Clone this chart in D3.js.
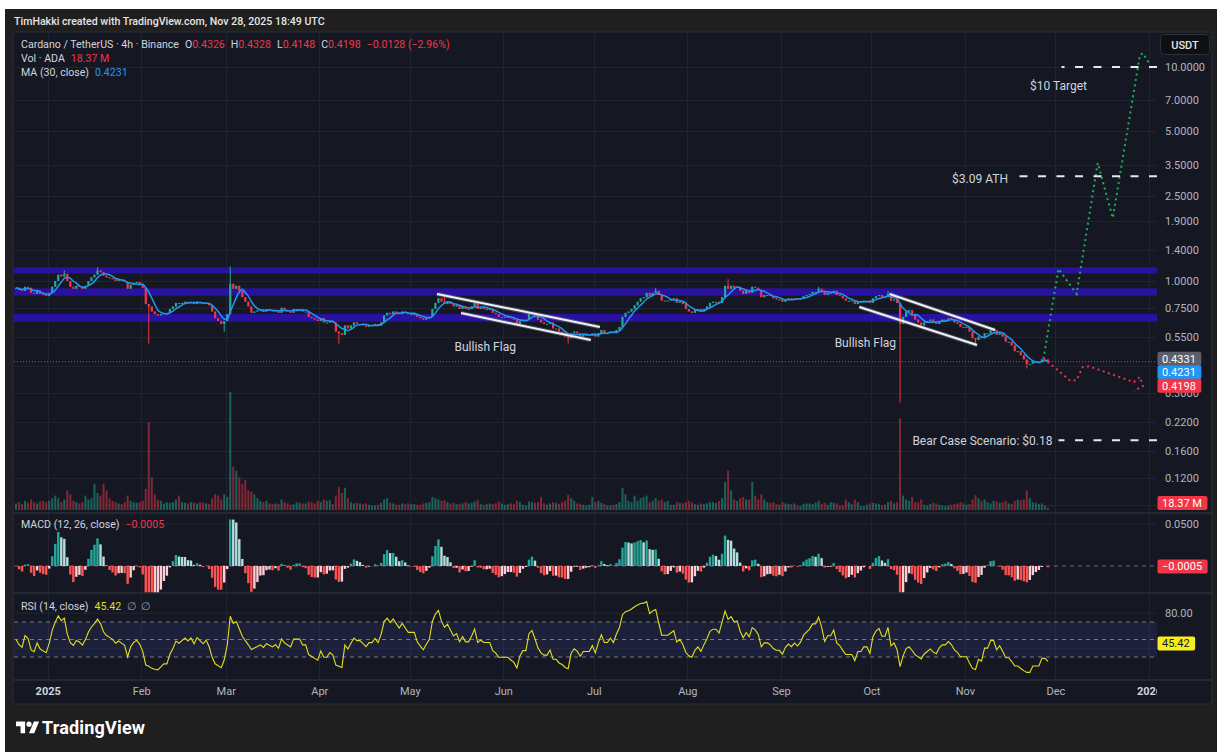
<!DOCTYPE html>
<html>
<head>
<meta charset="utf-8">
<title>Cardano / TetherUS 4h</title>
<script src="https://cdn.jsdelivr.net/npm/d3@7/dist/d3.min.js"></script>
<style>
  body { margin: 0; background: #ffffff; }
  #chart { display: block; font-family: Roboto, "Noto Sans", sans-serif; }
</style>
</head>
<body>
<svg id="chart" width="1223" height="756"></svg>
<script>
/** DATA (one daily close per candle) */
const startDay = new Date(2024, 11, 21)
const firstOpen = 0.92
const closes = [
  // Dec 21 - 31
  0.93, 0.91, 0.90, 0.94, 0.93, 0.88, 0.87, 0.90, 0.87, 0.86, 0.85,
  // Jan
  0.88, 0.94, 1.00, 1.07, 1.05, 1.08, 1.00, 0.94, 0.92, 0.95, 0.94, 0.92, 0.95, 1.00, 1.04, 1.07,
  1.12, 1.10, 1.06, 1.04, 1.03, 1.02, 1.00, 1.01, 1.00, 0.99, 0.92, 0.96, 0.98, 0.99, 0.97,
  // Feb
  0.93, 0.78, 0.76, 0.72, 0.70, 0.69, 0.70, 0.71, 0.71, 0.74, 0.76, 0.79, 0.78, 0.79, 0.80, 0.79,
  0.80, 0.78, 0.80, 0.79, 0.78, 0.79, 0.77, 0.72, 0.67, 0.65, 0.63, 0.65,
  // Mar
  0.70, 0.97, 0.92, 0.95, 0.90, 0.84, 0.80, 0.76, 0.71, 0.72, 0.73, 0.74, 0.72, 0.74, 0.73, 0.72,
  0.73, 0.71, 0.75, 0.73, 0.72, 0.71, 0.74, 0.74, 0.74, 0.72, 0.72, 0.68, 0.67, 0.66, 0.65,
  // Apr
  0.67, 0.64, 0.64, 0.65, 0.64, 0.58, 0.57, 0.56, 0.62, 0.60, 0.62, 0.64, 0.63, 0.63, 0.62, 0.61,
  0.62, 0.62, 0.63, 0.62, 0.64, 0.69, 0.71, 0.70, 0.72, 0.71, 0.70, 0.72, 0.71, 0.70,
  // May
  0.70, 0.70, 0.68, 0.67, 0.66, 0.67, 0.68, 0.74, 0.79, 0.83, 0.80, 0.78, 0.80, 0.78, 0.76, 0.77,
  0.74, 0.76, 0.74, 0.74, 0.76, 0.79, 0.74, 0.75, 0.74, 0.74, 0.74, 0.71, 0.70, 0.68, 0.68,
  // Jun
  0.68, 0.68, 0.67, 0.66, 0.63, 0.65, 0.66, 0.66, 0.70, 0.71, 0.69, 0.66, 0.64, 0.63, 0.63, 0.64,
  0.60, 0.60, 0.58, 0.57, 0.55, 0.54, 0.57, 0.58, 0.57, 0.55, 0.56, 0.56, 0.56, 0.57,
  // Jul
  0.55, 0.57, 0.59, 0.57, 0.57, 0.58, 0.57, 0.59, 0.61, 0.68, 0.71, 0.72, 0.74, 0.77, 0.80, 0.83,
  0.84, 0.88, 0.85, 0.88, 0.90, 0.86, 0.81, 0.81, 0.81, 0.82, 0.83, 0.79, 0.80, 0.78, 0.74,
  // Aug
  0.72, 0.71, 0.73, 0.74, 0.72, 0.74, 0.76, 0.79, 0.80, 0.80, 0.79, 0.84, 0.95, 0.92, 0.95, 0.93,
  0.94, 0.90, 0.87, 0.90, 0.88, 0.94, 0.93, 0.91, 0.84, 0.86, 0.86, 0.85, 0.83, 0.82, 0.82,
  // Sep
  0.80, 0.82, 0.83, 0.82, 0.83, 0.82, 0.83, 0.85, 0.86, 0.87, 0.89, 0.89, 0.92, 0.90, 0.86, 0.88,
  0.88, 0.90, 0.86, 0.85, 0.83, 0.81, 0.81, 0.81, 0.78, 0.80, 0.80, 0.81, 0.81, 0.79,
  // Oct
  0.83, 0.85, 0.86, 0.84, 0.84, 0.87, 0.81, 0.82, 0.79, 0.63, 0.68, 0.72, 0.73, 0.70, 0.66, 0.64,
  0.62, 0.64, 0.65, 0.66, 0.64, 0.63, 0.65, 0.66, 0.66, 0.67, 0.66, 0.64, 0.63, 0.61, 0.61,
  // Nov 1 - 28
  0.61, 0.58, 0.54, 0.53, 0.55, 0.54, 0.57, 0.57, 0.59, 0.59, 0.56, 0.57, 0.55, 0.52, 0.52, 0.50,
  0.47, 0.47, 0.45, 0.43, 0.41, 0.41, 0.42, 0.42, 0.42, 0.43, 0.43, 0.4198
]
// volume, millions of ADA (tallest 4h bar of each day)
const volumes = [
  50, 60, 45, 70, 55, 80, 60, 50, 65, 70, 60,
  70, 90, 110, 90, 60, 80, 150, 120, 70, 60, 50, 60, 110, 80, 90, 200, 130, 110, 200, 150, 90, 70, 60, 50, 45, 60, 110, 70, 60, 55, 60,
  70, 160, 670, 250, 120, 80, 70, 50, 60, 55, 60, 80, 110, 60, 55, 50, 60, 55, 50, 60, 55, 50, 45, 90, 120, 110, 80, 120,
  100, 900, 330, 300, 250, 200, 230, 150, 140, 120, 90, 70, 60, 70, 50, 45, 50, 45, 80, 60, 50, 40, 45, 60, 55, 50, 50, 65, 60, 50, 70,
  60, 80, 70, 75, 45, 110, 175, 130, 170, 90, 60, 50, 55, 50, 45, 50, 40, 35, 35, 40, 55, 80, 90, 55, 50, 40, 40, 50, 45, 50,
  45, 45, 40, 40, 50, 55, 60, 100, 90, 80, 70, 75, 60, 50, 55, 45, 45, 50, 60, 50, 55, 65, 75, 45, 40, 45, 50, 45, 50, 65, 50,
  40, 45, 50, 45, 70, 60, 40, 35, 65, 60, 55, 60, 100, 50, 40, 50, 60, 55, 45, 60, 70, 115, 90, 70, 50, 45, 40, 35, 40, 100,
  60, 70, 55, 45, 35, 35, 40, 45, 60, 170, 120, 70, 60, 110, 70, 90, 100, 110, 60, 70, 90, 70, 80, 60, 70, 40, 40, 60, 55, 50, 60,
  70, 60, 45, 40, 50, 45, 50, 60, 60, 55, 70, 90, 215, 300, 150, 80, 70, 90, 100, 80, 80, 215, 110, 80, 120, 80, 60, 55, 60, 45, 40,
  60, 50, 45, 45, 50, 35, 30, 45, 50, 50, 45, 55, 70, 45, 55, 40, 60, 55, 50, 35, 35, 80, 60, 45, 80, 60, 30, 30, 40, 50,
  55, 50, 45, 35, 40, 60, 70, 50, 60, 700, 110, 80, 70, 100, 60, 60, 80, 40, 35, 45, 55, 50, 40, 35, 30, 35, 40, 45, 50, 60, 50,
  40, 45, 80, 115, 90, 70, 80, 60, 50, 70, 65, 55, 60, 70, 50, 45, 70, 80, 75, 80, 150, 90, 60, 55, 45, 50, 35, 18.37
]
// long wicks that stick out of the bodies
const highWicks = [['2025-01-06', 1.12], ['2025-01-17', 1.16], ['2025-03-02', 1.17], ['2025-05-12', 0.86],
  ['2025-07-21', 0.93], ['2025-08-14', 1.02], ['2025-09-13', 0.94], ['2025-10-06', 0.90]]
const lowWicks = [['2025-02-03', 0.51], ['2025-02-28', 0.58], ['2025-04-07', 0.51], ['2025-06-22', 0.51],
  ['2025-10-10', 0.27], ['2025-11-04', 0.50], ['2025-11-21', 0.39]]

const priceTicks = [10, 7, 5, 3.5, 2.5, 1.9, 1.4, 1.0, 0.75, 0.55, 0.3, 0.22, 0.16, 0.12]
const priceGridOnly = [0.4, 0.09]
const zones = [[1.086, 1.159], [0.854, 0.924], [0.645, 0.701]]
const flagLines = [
  [['2025-05-10', 0.870], ['2025-07-03', 0.610]],
  [['2025-05-18', 0.709], ['2025-06-30', 0.530]],
  [['2025-10-07', 0.870], ['2025-11-11', 0.590]],
  [['2025-09-27', 0.756], ['2025-11-05', 0.502]]
]
const bullPath = [['2025-11-27', 0.432], ['2025-12-02', 1.14], ['2025-12-08', 0.87], ['2025-12-15', 3.56],
  ['2025-12-20', 1.97], ['2025-12-29', 11.4], ['2025-12-30', 11.6], ['2026-01-01', 10.4]]
const bearPath = [['2025-11-27', 0.436], ['2025-12-06', 0.341], ['2025-12-08', 0.344], ['2025-12-10', 0.396],
  ['2025-12-12', 0.400], ['2025-12-27', 0.337], ['2025-12-29', 0.356], ['2025-12-30', 0.323], ['2025-12-27', 0.306]]
const levels = [[10, '2025-12-03'], [3.09, '2025-11-19'], [0.18, '2025-12-02']]
const notes = [
  ['$10 Target', '2025-12-02', 8.15, 'middle'],
  ['$3.09 ATH', '2025-11-06', 3.0, 'middle'],
  ['Bear Case Scenario: $0.18', '2025-11-30', 0.18, 'end'],
  ['Bullish Flag', '2025-05-26', 0.491, 'middle'],
  ['Bullish Flag', '2025-09-29', 0.513, 'middle']
]
const headerText = 'TimHakki created with TradingView.com, Nov 28, 2025 18:49 UTC'
const symbolText = 'Cardano / TetherUS · 4h · Binance'
const ohlc = [['O', '0.4326'], ['H', '0.4328'], ['L', '0.4148'], ['C', '0.4198']]
const changeText = '−0.0128 (−2.96%)'
const lastVol = '18.37 M', lastMa = '0.4231', lastMacd = '−0.0005', lastRsi = '45.42'
const lastBoxes = [[0.4331, '0.4331', '#5d606b'], [0.4231, '0.4231', '#2196f3'], [0.4198, '0.4198', '#f23645']]

/** LAYOUT */
const plotL = 14, plotR = 1157, panelR = 1212
const paneTop = 32, mainBottom = 513, macdBottom = 593, rsiBottom = 680, panelBottom = 704
const upColor = '#22ab94', downColor = '#f23645', axisText = '#b2b5be', legendText = '#d1d4dc'
const gridColor = '#202432', sepColor = '#2a2e39'
const legendSize = 10.6
const parseDay = d3.timeParse('%Y-%m-%d')
const fmtDay = d3.timeFormat('%Y-%m-%d')

const svg = d3.select('#chart')

const xScale = d3.scaleTime().domain([new Date(2025, 0, 1), new Date(2026, 0, 1)]).range([47.7, 1149])
const yPrice = d3.scaleLog().domain([1, 10]).range([281, 67])
const yVol = d3.scaleLinear().domain([0, 1000]).range([510, 379])
const yMacd = d3.scaleLinear().domain([0, 0.05]).range([566, 524])
const yRsi = d3.scaleLinear().domain([30, 70]).range([657, 622])

/** candles + indicators */
const highMap = new Map(highWicks), lowMap = new Map(lowWicks)
const candles = closes.map((c, i) => {
  const day = d3.timeDay.offset(startDay, i)
  const key = fmtDay(day)
  const o = i === 0 ? firstOpen : closes[i - 1]
  return {
    day: day, o: o, c: c, v: volumes[i],
    h: Math.max(o, c, highMap.get(key) || 0),
    l: Math.min(o, c, lowMap.get(key) || 99)
  }
})
const xMid = d => xScale(d3.timeHour.offset(d.day, 12))

// 30 bars of 4h = 5 days
candles.forEach((d, i) => { d.ma = d3.mean(closes.slice(Math.max(0, i - 4), i + 1)) })

// EMA lengths given in 4h bars, turned into daily smoothing with the same lag
function lagAlpha(bars) { return 1 / (1 + (bars - 1) / 2 / 6) }
function ema(vals, a) {
  let out = [], prev = vals[0]
  vals.forEach((v, i) => { prev = i === 0 ? v : prev + a * (v - prev); out.push(prev) })
  return out
}
const fastE = ema(closes, lagAlpha(12)), slowE = ema(closes, lagAlpha(26))
candles.forEach((d, i) => { d.macd = fastE[i] - slowE[i] })

const rsiA = 0.12
let avgG = 0.01, avgL = 0.01
candles.forEach((d, i) => {
  if (i > 0) {
    const ch = closes[i] - closes[i - 1]
    avgG += rsiA * (Math.max(ch, 0) - avgG)
    avgL += rsiA * (Math.max(-ch, 0) - avgL)
  }
  d.rsi = 100 - 100 / (1 + avgG / avgL)
})

/** frame */
svg.append('rect').attr('x', 5).attr('y', 9).attr('width', 1212).attr('height', 743).attr('fill', '#1f1f1f')
svg.append('text').attr('x', 14).attr('y', 25).attr('fill', '#e6e6e6')
  .attr('font-size', legendSize).attr('font-weight', 500).text(headerText)
svg.append('rect').attr('x', 13).attr('y', paneTop).attr('width', panelR - 13).attr('height', panelBottom - paneTop)
  .attr('fill', '#151823').attr('stroke', sepColor)

const defs = svg.append('defs')
function clip(id, y0, y1) {
  defs.append('clipPath').attr('id', id).append('rect')
    .attr('x', plotL).attr('y', y0).attr('width', plotR - plotL).attr('height', y1 - y0)
}
clip('clipMain', paneTop, mainBottom)
clip('clipMacd', mainBottom, macdBottom)
clip('clipRsi', macdBottom, rsiBottom)
clip('clipTime', rsiBottom, panelBottom)

/** grid */
const grid = svg.append('g').attr('stroke', gridColor).attr('stroke-width', 1)
const months = d3.timeMonth.range(new Date(2025, 0, 1), new Date(2026, 0, 2))
grid.selectAll('.vg').data(months).join('line')
  .attr('x1', d => Math.round(xScale(d)) + 0.5).attr('x2', d => Math.round(xScale(d)) + 0.5)
  .attr('y1', paneTop).attr('y2', rsiBottom)
grid.selectAll('.hg').data(priceTicks.concat(priceGridOnly)).join('line')
  .attr('x1', plotL).attr('x2', plotR)
  .attr('y1', d => Math.round(yPrice(d)) + 0.5).attr('y2', d => Math.round(yPrice(d)) + 0.5)
grid.append('line').attr('x1', plotL).attr('x2', plotR).attr('y1', yMacd(0.05)).attr('y2', yMacd(0.05))
grid.selectAll('.rg').data([80, 40]).join('line')
  .attr('x1', plotL).attr('x2', plotR).attr('y1', d => yRsi(d)).attr('y2', d => yRsi(d))

/** main pane */
const mainG = svg.append('g').attr('clip-path', 'url(#clipMain)')

mainG.selectAll('.zone').data(zones).join('rect')
  .attr('x', plotL).attr('width', plotR - plotL)
  .attr('y', d => yPrice(d[1])).attr('height', d => yPrice(d[0]) - yPrice(d[1]))
  .attr('fill', '#2a12a0')

mainG.selectAll('.vol').data(candles).join('rect')
  .attr('x', d => xMid(d) - 1).attr('width', 2)
  .attr('y', d => yVol(d.v)).attr('height', d => yVol(0) - yVol(d.v))
  .attr('fill', d => d.c >= d.o ? upColor : downColor).attr('opacity', 0.5)

mainG.append('line').attr('x1', plotL).attr('x2', plotR)
  .attr('y1', yPrice(closes[closes.length - 1])).attr('y2', yPrice(closes[closes.length - 1]))
  .attr('stroke', downColor).attr('stroke-dasharray', '1 2').attr('stroke-width', 1)

mainG.selectAll('.wick').data(candles).join('line')
  .attr('x1', d => xMid(d)).attr('x2', d => xMid(d))
  .attr('y1', d => yPrice(d.h)).attr('y2', d => yPrice(d.l))
  .attr('stroke', d => d.c >= d.o ? upColor : downColor).attr('stroke-width', 1)
mainG.selectAll('.body').data(candles).join('rect')
  .attr('x', d => xMid(d) - 1.1).attr('width', 2.2)
  .attr('y', d => yPrice(Math.max(d.o, d.c)))
  .attr('height', d => Math.max(1, yPrice(Math.min(d.o, d.c)) - yPrice(Math.max(d.o, d.c))))
  .attr('fill', d => d.c >= d.o ? upColor : downColor)

mainG.append('path').datum(candles)
  .attr('d', d3.line().x(d => xMid(d)).y(d => yPrice(d.ma)).curve(d3.curveMonotoneX))
  .attr('fill', 'none').attr('stroke', '#2196f3').attr('stroke-width', 1.5)

// flags
const ptLine = d3.line().x(d => xScale(parseDay(d[0]))).y(d => yPrice(d[1]))
mainG.selectAll('.flagU').data(flagLines).join('path').attr('d', ptLine)
  .attr('stroke', '#8a8d96').attr('stroke-width', 4).attr('opacity', 0.45).attr('fill', 'none')
mainG.selectAll('.flag').data(flagLines).join('path').attr('d', ptLine)
  .attr('stroke', '#eef0f5').attr('stroke-width', 2).attr('fill', 'none')

// projections
mainG.append('path').datum(bullPath).attr('d', ptLine).attr('fill', 'none')
  .attr('stroke', '#1fae5b').attr('stroke-width', 2).attr('stroke-dasharray', '2 3.5')
mainG.append('path').datum(bearPath).attr('d', ptLine).attr('fill', 'none')
  .attr('stroke', '#e5344c').attr('stroke-width', 2).attr('stroke-dasharray', '2 3.5')

// dashed levels, drawn from the price scale edge leftwards
mainG.selectAll('.lvl').data(levels).join('line')
  .attr('x1', plotR).attr('x2', d => xScale(parseDay(d[1])))
  .attr('y1', d => yPrice(d[0])).attr('y2', d => yPrice(d[0]))
  .attr('stroke', '#e8e8e8').attr('stroke-width', 2).attr('stroke-dasharray', '8 10.5')

mainG.selectAll('.note').data(notes).join('text')
  .attr('x', d => xScale(parseDay(d[1]))).attr('y', d => yPrice(d[2]))
  .attr('dy', '0.35em').attr('text-anchor', d => d[3])
  .attr('fill', legendText).attr('font-size', 12).text(d => d[0])

/** MACD pane */
const macdG = svg.append('g').attr('clip-path', 'url(#clipMacd)')
macdG.append('line').attr('x1', plotL).attr('x2', plotR).attr('y1', yMacd(0)).attr('y2', yMacd(0))
  .attr('stroke', '#6a6d78').attr('stroke-dasharray', '4 4')
function macdColor(d, i) {
  const prev = i > 0 ? candles[i - 1].macd : 0
  if (d.macd >= 0) return d.macd >= prev ? '#26a69a' : '#b2dfdb'
  return d.macd < prev ? '#ff5252' : '#ffcdd2'
}
macdG.selectAll('.mh').data(candles).join('rect')
  .attr('x', d => xMid(d) - 1.2).attr('width', 2.4)
  .attr('y', d => Math.min(yMacd(d.macd), yMacd(0)))
  .attr('height', d => Math.abs(yMacd(d.macd) - yMacd(0)))
  .attr('fill', macdColor)

/** RSI pane */
const rsiG = svg.append('g').attr('clip-path', 'url(#clipRsi)')
rsiG.append('rect').attr('x', plotL).attr('width', plotR - plotL)
  .attr('y', yRsi(70)).attr('height', yRsi(30) - yRsi(70)).attr('fill', 'rgba(80, 90, 220, 0.12)')
rsiG.selectAll('.rl').data([70, 50, 30]).join('line')
  .attr('x1', plotL).attr('x2', plotR).attr('y1', d => yRsi(d)).attr('y2', d => yRsi(d))
  .attr('stroke', '#787b86').attr('stroke-dasharray', '4 4')
rsiG.append('path').datum(candles)
  .attr('d', d3.line().x(d => xMid(d)).y(d => yRsi(d.rsi)))
  .attr('fill', 'none').attr('stroke', '#e4df1e').attr('stroke-width', 1.1)

/** separators */
svg.selectAll('.sep').data([mainBottom, macdBottom, rsiBottom]).join('line')
  .attr('x1', 13).attr('x2', panelR).attr('y1', d => d).attr('y2', d => d)
  .attr('stroke', sepColor).attr('stroke-width', 1.5)

/** axes */
function styleAxis(g) {
  g.attr('font-family', null).attr('font-size', 11)
  g.select('.domain').remove()
  g.selectAll('text').attr('fill', axisText)
}
svg.append('g').attr('transform', `translate(${plotR},0)`)
  .call(d3.axisRight(yPrice).tickValues(priceTicks).tickSize(0).tickPadding(8).tickFormat(d3.format('.4f')))
  .call(styleAxis)
svg.append('g').attr('transform', `translate(${plotR},0)`)
  .call(d3.axisRight(yMacd).tickValues([0.05]).tickSize(0).tickPadding(8).tickFormat(d3.format('.4f')))
  .call(styleAxis)
svg.append('g').attr('transform', `translate(${plotR},0)`)
  .call(d3.axisRight(yRsi).tickValues([80]).tickSize(0).tickPadding(8).tickFormat(d3.format('.2f')))
  .call(styleAxis)

const timeAxis = svg.append('g').attr('clip-path', 'url(#clipTime)').append('g')
  .attr('transform', `translate(0,${rsiBottom})`)
  .call(d3.axisBottom(xScale).tickValues(months).tickSize(0).tickPadding(7)
    .tickFormat(d => d.getMonth() === 0 ? d3.timeFormat('%Y')(d) : d3.timeFormat('%b')(d)))
  .call(styleAxis)
timeAxis.selectAll('text').filter(d => d.getMonth() === 0)
  .attr('font-weight', 700).attr('fill', '#d1d4dc')

/** value boxes on the price scale */
function valueBox(y, text, fill, color) {
  const g = svg.append('g')
  const t = g.append('text').attr('x', plotR + 5).attr('y', y).attr('dy', '0.35em')
    .attr('font-size', 11).attr('fill', color || '#ffffff').text(text)
  const w = t.node().getComputedTextLength() + 10
  g.insert('rect', 'text').attr('x', plotR + 0.5).attr('y', y - 7).attr('width', w).attr('height', 14)
    .attr('rx', 2).attr('fill', fill)
}
let lastY = -1e9
lastBoxes.forEach(b => {
  let y = Math.max(yPrice(b[0]), lastY + 13.5)
  valueBox(y, b[1], b[2])
  lastY = y
})
valueBox(Math.min(yVol(+lastVol.split(' ')[0]), yVol(0) - 7), lastVol, downColor)
valueBox(yMacd(-0.0005), lastMacd, downColor)
valueBox(yRsi(+lastRsi), lastRsi, '#f5ee1c', '#131722')

svg.append('rect').attr('x', 1160.5).attr('y', 34.5).attr('width', 49).attr('height', 20).attr('rx', 4)
  .attr('fill', '#0e0f12').attr('stroke', '#2e3038')
svg.append('text').attr('x', 1185).attr('y', 45).attr('dy', '0.35em').attr('text-anchor', 'middle')
  .attr('fill', '#e6e6e6').attr('font-size', 11).attr('font-weight', 500).text('USDT')

/** legends */
function legend(y, parts) {
  const t = svg.append('text').attr('x', 21).attr('y', y).attr('dy', '0.35em')
    .attr('font-size', legendSize).style('white-space', 'pre')
  parts.forEach(p => t.append('tspan').attr('fill', p[1]).attr('dx', p[2] || 0).text(p[0]))
}
const line1 = [[symbolText, legendText]]
ohlc.forEach(p => { line1.push([p[0], legendText, 6]); line1.push([p[1], downColor]) })
line1.push([changeText, downColor, 6])
legend(44, line1)
legend(58, [['Vol · ADA', legendText], [lastVol, downColor, 6]])
legend(72, [['MA (30, close)', legendText], [lastMa, '#2196f3', 6]])
legend(524, [['MACD (12, 26, close)', legendText], [lastMacd, downColor, 6]])
legend(606, [['RSI (14, close)', legendText], [lastRsi, '#e4df1e', 6], ['∅', '#9598a1', 6], ['∅', '#9598a1', 4]])

/** TradingView logo */
const logo = svg.append('g').attr('transform', 'translate(16,719) scale(0.65)').attr('fill', '#ffffff')
logo.append('path').attr('d', 'M14 22H7V11H0V4h14v18zM28 22h-8l7.5-18h8L28 22z')
logo.append('circle').attr('cx', 20).attr('cy', 8).attr('r', 4)
svg.append('text').attr('x', 42).attr('y', 734).attr('fill', '#ffffff')
  .attr('font-size', 18).attr('font-weight', 700).attr('textLength', 103).text('TradingView')
</script>
</body>
</html>
